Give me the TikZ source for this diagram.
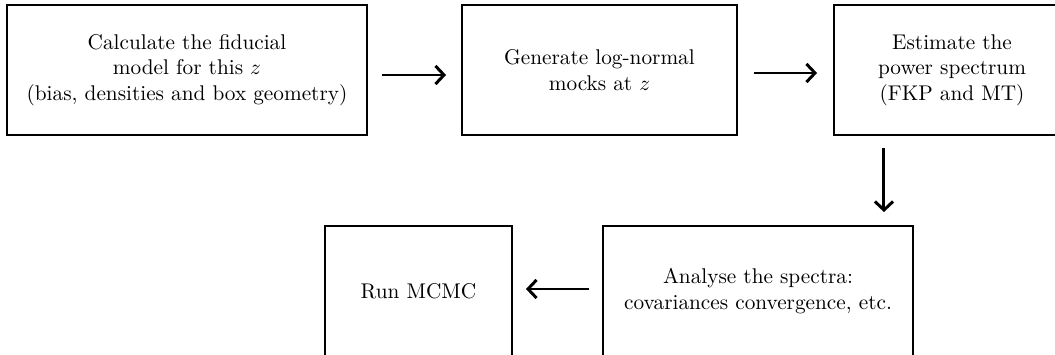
\documentclass[tikz,border=0pt]{standalone}
\usetikzlibrary{calc,arrows.meta}
\begin{document}
\begin{tikzpicture}[x=0.47pt,y=-0.47pt,
  stepbox/.style={draw, line width=0.9pt, inner sep=0pt, align=center, minimum height=130*0.47pt},
  arr/.style={-{Straight Barb[length=4pt,width=8.5pt]}, line width=1.4pt}]
\useasboundingbox (0,0) rectangle (1055,354);
\node[stepbox, minimum width=360*0.47pt] (b1) at (187,70) {Calculate the fiducial\\ model for this $z$\\ (bias, densities and box geometry)};
\node[stepbox, minimum width=275*0.47pt] (b2) at (599.5,70) {Generate log-normal\\ mocks at $z$};
\node[stepbox, minimum width=236*0.47pt] (b3) at (952,70) {Estimate the\\ power spectrum\\ (FKP and MT)};
\node[stepbox, minimum width=310*0.47pt] (b4) at (758,291) {Analyse the spectra:\\ covariances convergence, etc.};
\node[stepbox, minimum width=187*0.47pt] (b5) at (418.5,291) {Run MCMC};
\draw[arr] ($(b1.east)+(14,5)$) -- ($(b2.west)+(-15,5)$);
\draw[arr] ($(b2.east)+(16,3)$) -- ($(b3.west)+(-16,3)$);
\draw[arr] ($(b3.south -| b4.east)+(-30,12)$) -- ($(b4.north east)+(-30,-13)$);
\draw[arr] ($(b4.west)+(-13,-2)$) -- ($(b5.east)+(13,-2)$);
\end{tikzpicture}
\end{document}
